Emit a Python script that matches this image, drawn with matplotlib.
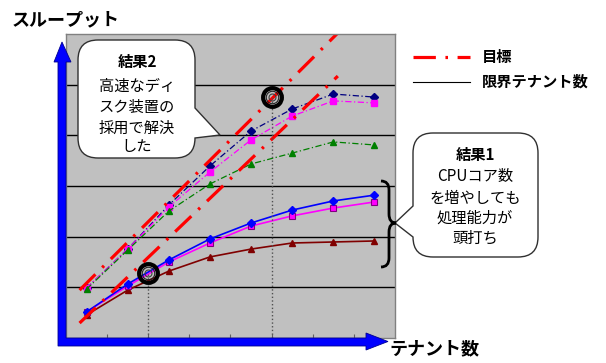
import numpy as np
import matplotlib.pyplot as plt
from matplotlib.patches import PathPatch, Polygon
from matplotlib.path import Path

plt.rcParams['font.family'] = ['Noto Sans CJK JP', 'DejaVu Sans']

# categories (tenant count steps) and throughput series
x = np.arange(8)
blue_solid = [10.3, 21.3, 30.8, 39.1, 45.4, 50.5, 54.1, 56.4]
magenta_solid = [10.3, 20.5, 30.0, 37.5, 44.2, 48.2, 51.3, 53.7]
darkred_solid = [9.1, 18.9, 26.4, 32.0, 35.1, 37.5, 37.9, 38.3]
navy_dashdot = [19.7, 35.1, 52.5, 67.9, 81.7, 90.4, 96.3, 95.1]
magenta_dashdot = [19.7, 35.1, 51.7, 65.5, 78.2, 87.6, 93.6, 92.8]
green_dashdot = [19.3, 34.7, 50.1, 60.8, 68.7, 73.0, 77.4, 76.2]

# target lines
target_x = [-0.17, 6.11]
target_high = [18.9, 120.4]
target_low = [5.9, 103.4]

# limit tenant markers
limit_x = [1.5, 4.5]
limit_y = [25.7, 95.1]

legend_labels = ["目標", "限界テナント数"]
note1 = ["結果1", "CPUコア数", "を増やしても", "処理能力が", "頭打ち"]
note2 = ["結果2", "高速なディ", "スク装置の", "採用で解決", "した"]


def bubble(x0, y0, x1, y1, r, side, t0, tip, t1):
    # rounded box with a pointer; y grows downward
    v = [(x0 + r, y0), (x1 - r, y0), (x1, y0), (x1, y0 + r)]
    c = [Path.MOVETO, Path.LINETO, Path.CURVE3, Path.CURVE3]
    if side == 'right':
        v += [(x1, t0), tip, (x1, t1)]
        c += [Path.LINETO] * 3
    v += [(x1, y1 - r), (x1, y1), (x1 - r, y1), (x0 + r, y1), (x0, y1), (x0, y1 - r)]
    c += [Path.LINETO, Path.CURVE3, Path.CURVE3, Path.LINETO, Path.CURVE3, Path.CURVE3]
    if side == 'left':
        v += [(x0, t1), tip, (x0, t0)]
        c += [Path.LINETO] * 3
    v += [(x0, y0 + r), (x0, y0), (x0 + r, y0), (x0 + r, y0)]
    c += [Path.LINETO, Path.CURVE3, Path.CURVE3, Path.CLOSEPOLY]
    return Path(v, c)


fig = plt.figure(figsize=(6.06, 3.63), dpi=100)
ax = fig.add_axes([66 / 606, 25 / 363, 329 / 606, 304 / 363])
ax.set_facecolor('#C0C0C0')
ax.set_xlim(-0.5, 7.5)
ax.set_ylim(0, 120)
for s in ax.spines.values():
    s.set_color('#808080')
    s.set_linewidth(1)
ax.set_yticks([20, 40, 60, 80, 100])
ax.yaxis.grid(True, color='black', lw=1)
ax.set_axisbelow(True)
ax.set_xticks(np.arange(0.5, 7.5, 1))
ax.tick_params(axis='x', direction='in', length=3, color='#606060', labelbottom=False)
ax.tick_params(axis='y', length=0, labelleft=False)

dd = (0, (5, 2, 1, 2))
ax.plot(x, navy_dashdot, color='#000080', ls=dd, lw=0.9, marker='D', ms=4.5)
ax.plot(x, magenta_dashdot, color='#FF00FF', ls=dd, lw=0.9, marker='s', ms=4.5)
ax.plot(x, green_dashdot, color='#008000', ls=dd, lw=0.9, marker='^', ms=5)
ax.plot(x, darkred_solid, color='#800000', lw=1.2, marker='^', ms=5)
ax.plot(x, magenta_solid, color='#FF00FF', lw=1.2, marker='s', ms=4.5,
        mec='#800080', mew=0.8)
ax.plot(x, blue_solid, color='#0000FF', lw=1.2, marker='D', ms=4.5)

red_dd = (0, (7, 3, 0.8, 3))
ax.plot(target_x, target_high, color='#FF0000', lw=2.3, ls=red_dd)
ax.plot(target_x, target_low, color='#FF0000', lw=2.3, ls=red_dd)

for lx, ly in zip(limit_x, limit_y):
    ax.plot([lx, lx], [0, ly], color='#505050', ls=':', lw=1)
ax.plot(limit_x, limit_y, 'o', ms=13.5, mfc='none', mec='black', mew=3)
ax.plot(limit_x, limit_y, 'o', ms=9, mfc='none', mec='#202020', mew=0.8)
ax.plot(limit_x, limit_y, 'o', ms=5, mfc='none', mec='#404040', mew=0.8)

# overlay in pixel units for arrows, callouts and labels
ov = fig.add_axes([0, 0, 1, 1], zorder=5)
ov.set_xlim(0, 606)
ov.set_ylim(363, 0)
ov.axis('off')
ov.patch.set_alpha(0)

arrow = [(58, 346), (58, 62), (54, 62), (62, 42), (71, 62), (66, 62), (66, 338),
         (366, 338), (366, 333), (388, 341.5), (366, 350), (366, 346)]
ov.add_patch(Polygon(arrow, closed=True, fc='#0000FF', ec='#000090', lw=0.6))

ov.add_patch(PathPatch(bubble(78, 40, 195, 158, 20, 'right', 108, (220, 135), 138),
                       fc='white', ec='#303030', lw=1))
ov.add_patch(PathPatch(bubble(413, 133, 538, 257, 20, 'left', 206, (395, 223), 237),
                       fc='white', ec='#303030', lw=1))

brace = Path([(381, 181), (389, 181), (389, 190), (389, 214), (389, 223), (396, 223),
              (389, 223), (389, 232), (389, 258), (389, 267), (381, 267)],
             [Path.MOVETO, Path.CURVE3, Path.CURVE3, Path.LINETO, Path.CURVE3, Path.CURVE3,
              Path.CURVE3, Path.CURVE3, Path.LINETO, Path.CURVE3, Path.CURVE3])
ov.add_patch(PathPatch(brace, fc='none', ec='black', lw=2))

for i, (ty, txt) in enumerate(zip([155, 177, 198, 218, 238], note1)):
    ov.text(475, ty, txt, ha='center', va='center', fontsize=11,
            fontweight='bold' if i == 0 else 'normal')
for i, (ty, txt) in enumerate(zip([62, 86, 107, 128, 147], note2)):
    ov.text(137, ty, txt, ha='center', va='center', fontsize=11,
            fontweight='bold' if i == 0 else 'normal')

ov.plot([413, 470], [57, 57], color='#FF0000', lw=2.3, ls=red_dd)
ov.plot([413, 470], [82, 82], color='black', lw=0.8)
ov.text(482, 57, legend_labels[0], va='center', fontsize=11, fontweight='bold')
ov.text(482, 82, legend_labels[1], va='center', fontsize=11, fontweight='bold')

ov.text(12, 20, "スループット", va='center', fontsize=13, fontweight='bold')
ov.text(389, 349, "テナント数", va='center', fontsize=13, fontweight='bold')

fig.savefig('out.png', dpi=100)
